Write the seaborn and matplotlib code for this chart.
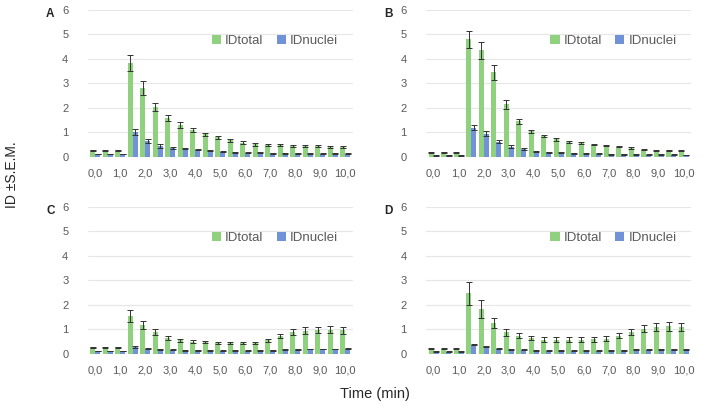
import matplotlib
matplotlib.use("Agg")
import matplotlib.pyplot as plt
import numpy as np
import pandas as pd
import seaborn as sns

# time points (min), every 0.5 min from 0 to 10
times = ["0,0", "0,5", "1,0", "1,5", "2,0", "2,5", "3,0", "3,5", "4,0", "4,5", "5,0",
         "5,5", "6,0", "6,5", "7,0", "7,5", "8,0", "8,5", "9,0", "9,5", "10,0"]

# panel A
a_total = [0.28, 0.28, 0.28, 3.85, 2.80, 2.05, 1.60, 1.30, 1.10, 0.92, 0.80,
           0.68, 0.58, 0.52, 0.48, 0.47, 0.45, 0.44, 0.43, 0.41, 0.41]
a_total_err = [0.02, 0.02, 0.02, 0.33, 0.28, 0.17, 0.13, 0.12, 0.10, 0.07, 0.07,
               0.07, 0.06, 0.06, 0.04, 0.04, 0.03, 0.04, 0.04, 0.03, 0.04]
a_nuc = [0.12, 0.12, 0.12, 1.02, 0.65, 0.45, 0.38, 0.33, 0.30, 0.25, 0.22,
         0.20, 0.18, 0.17, 0.16, 0.15, 0.15, 0.14, 0.14, 0.13, 0.13]
a_nuc_err = [0.01, 0.01, 0.01, 0.13, 0.10, 0.07, 0.04, 0.02, 0.02, 0.02, 0.02,
             0.02, 0.02, 0.02, 0.02, 0.02, 0.02, 0.02, 0.02, 0.02, 0.02]

# panel B
b_total = [0.20, 0.20, 0.20, 4.80, 4.35, 3.45, 2.15, 1.45, 1.05, 0.86, 0.72,
           0.62, 0.57, 0.50, 0.47, 0.42, 0.36, 0.30, 0.28, 0.27, 0.26]
b_total_err = [0.02, 0.02, 0.02, 0.35, 0.35, 0.30, 0.18, 0.10, 0.07, 0.05, 0.06,
               0.04, 0.04, 0.03, 0.03, 0.03, 0.03, 0.02, 0.02, 0.02, 0.02]
b_nuc = [0.07, 0.07, 0.07, 1.20, 0.95, 0.63, 0.42, 0.33, 0.24, 0.20, 0.17,
         0.15, 0.14, 0.13, 0.12, 0.12, 0.11, 0.10, 0.10, 0.10, 0.09]
b_nuc_err = [0.01, 0.01, 0.01, 0.10, 0.10, 0.07, 0.05, 0.03, 0.02, 0.02, 0.02,
             0.02, 0.02, 0.02, 0.02, 0.02, 0.02, 0.01, 0.01, 0.01, 0.01]

# panel C
c_total = [0.27, 0.27, 0.27, 1.56, 1.18, 0.88, 0.65, 0.55, 0.50, 0.47, 0.43,
           0.43, 0.43, 0.45, 0.55, 0.73, 0.88, 0.95, 0.98, 0.98, 0.97]
c_total_err = [0.02, 0.02, 0.02, 0.25, 0.15, 0.12, 0.08, 0.07, 0.05, 0.04, 0.04,
               0.04, 0.04, 0.04, 0.07, 0.08, 0.12, 0.13, 0.13, 0.14, 0.14]
c_nuc = [0.12, 0.12, 0.12, 0.28, 0.22, 0.18, 0.16, 0.15, 0.14, 0.13, 0.12,
         0.12, 0.12, 0.12, 0.15, 0.17, 0.18, 0.20, 0.20, 0.20, 0.21]
c_nuc_err = [0.01, 0.01, 0.01, 0.03, 0.02, 0.02, 0.02, 0.02, 0.02, 0.02, 0.02,
             0.02, 0.02, 0.02, 0.02, 0.02, 0.02, 0.02, 0.02, 0.02, 0.02]

# panel D
d_total = [0.22, 0.22, 0.22, 2.48, 1.83, 1.25, 0.88, 0.75, 0.65, 0.58, 0.57,
           0.57, 0.57, 0.60, 0.62, 0.75, 0.90, 1.02, 1.10, 1.13, 1.10]
d_total_err = [0.02, 0.02, 0.02, 0.47, 0.35, 0.20, 0.13, 0.10, 0.10, 0.10, 0.10,
               0.10, 0.10, 0.10, 0.10, 0.10, 0.12, 0.14, 0.17, 0.18, 0.17]
d_nuc = [0.09, 0.09, 0.09, 0.38, 0.30, 0.22, 0.18, 0.16, 0.14, 0.13, 0.13,
         0.13, 0.13, 0.13, 0.13, 0.15, 0.16, 0.17, 0.18, 0.18, 0.18]
d_nuc_err = [0.01, 0.01, 0.01, 0.03, 0.02, 0.02, 0.02, 0.02, 0.02, 0.02, 0.02,
             0.02, 0.02, 0.02, 0.02, 0.02, 0.02, 0.02, 0.02, 0.02, 0.02]

panels = [
    ("A", a_total, a_total_err, a_nuc, a_nuc_err),
    ("B", b_total, b_total_err, b_nuc, b_nuc_err),
    ("C", c_total, c_total_err, c_nuc, c_nuc_err),
    ("D", d_total, d_total_err, d_nuc, d_nuc_err),
]

green = "#8fd17f"
blue = "#7192d9"
grey = "#595959"

sns.set_style("white")
plt.rcParams["font.family"] = ["Liberation Sans", "DejaVu Sans"]

fig = plt.figure(figsize=(7.08, 4.12), dpi=100)

# axes positions (left, bottom, width, height) in figure fraction
positions = [
    (0.124, 0.619, 0.374, 0.357),
    (0.602, 0.619, 0.374, 0.357),
    (0.124, 0.141, 0.374, 0.357),
    (0.602, 0.141, 0.374, 0.357),
]

for (letter, tot, tot_err, nuc, nuc_err), pos in zip(panels, positions):
    ax = fig.add_axes(pos)
    df = pd.DataFrame({
        "time": times * 2,
        "value": tot + nuc,
        "err": tot_err + nuc_err,
        "series": ["IDtotal"] * len(times) + ["IDnuclei"] * len(times),
    })
    sns.barplot(data=df, x="time", y="value", hue="series", order=times,
                hue_order=["IDtotal", "IDnuclei"],
                palette=[green, blue], width=0.8, errorbar=None, ax=ax,
                saturation=1, linewidth=0)

    # error bars at the centres of the drawn bars
    bars = [p for p in ax.patches if p.get_height() > 0]
    xs = [p.get_x() + p.get_width() / 2 for p in bars]
    hs = [p.get_height() for p in bars]
    errs = tot_err + nuc_err
    ax.errorbar(xs, hs, yerr=errs, fmt="none", ecolor="#333333",
                elinewidth=0.7, capsize=2, capthick=0.7)

    ax.set_ylim(0, 6)
    ax.set_xlim(-0.6, len(times) - 0.4)
    ax.set_yticks(range(0, 7))
    ax.yaxis.grid(True, color="#e6e6e6", linewidth=0.8)
    ax.set_axisbelow(True)
    ax.set_xticks(range(0, len(times), 2))
    ax.set_xticklabels(times[::2])
    ax.tick_params(axis="both", length=0, labelsize=8, colors=grey, pad=8)
    ax.tick_params(axis="y", pad=14)
    for s in ax.spines.values():
        s.set_visible(False)
    ax.set_xlabel("")
    ax.set_ylabel("")

    leg = ax.legend(loc="upper right", bbox_to_anchor=(0.99, 0.91), ncol=2,
                    frameon=False, fontsize=9.5, handlelength=0.7,
                    handleheight=0.7, handletextpad=0.3, columnspacing=1.0)
    for t in leg.get_texts():
        t.set_color(grey)

    fig.text(pos[0] - 0.053, pos[1] + pos[3] + 0.005, letter,
             fontsize=8.5, fontweight="bold", ha="center", va="top")

fig.text(0.017, 0.575, "ID \u00b1S.E.M.", rotation=90, ha="center",
         va="center", fontsize=10)
fig.text(0.53, 0.044, "Time (min)", ha="center", va="center", fontsize=10.5)

fig.savefig("out.png", dpi=100)
